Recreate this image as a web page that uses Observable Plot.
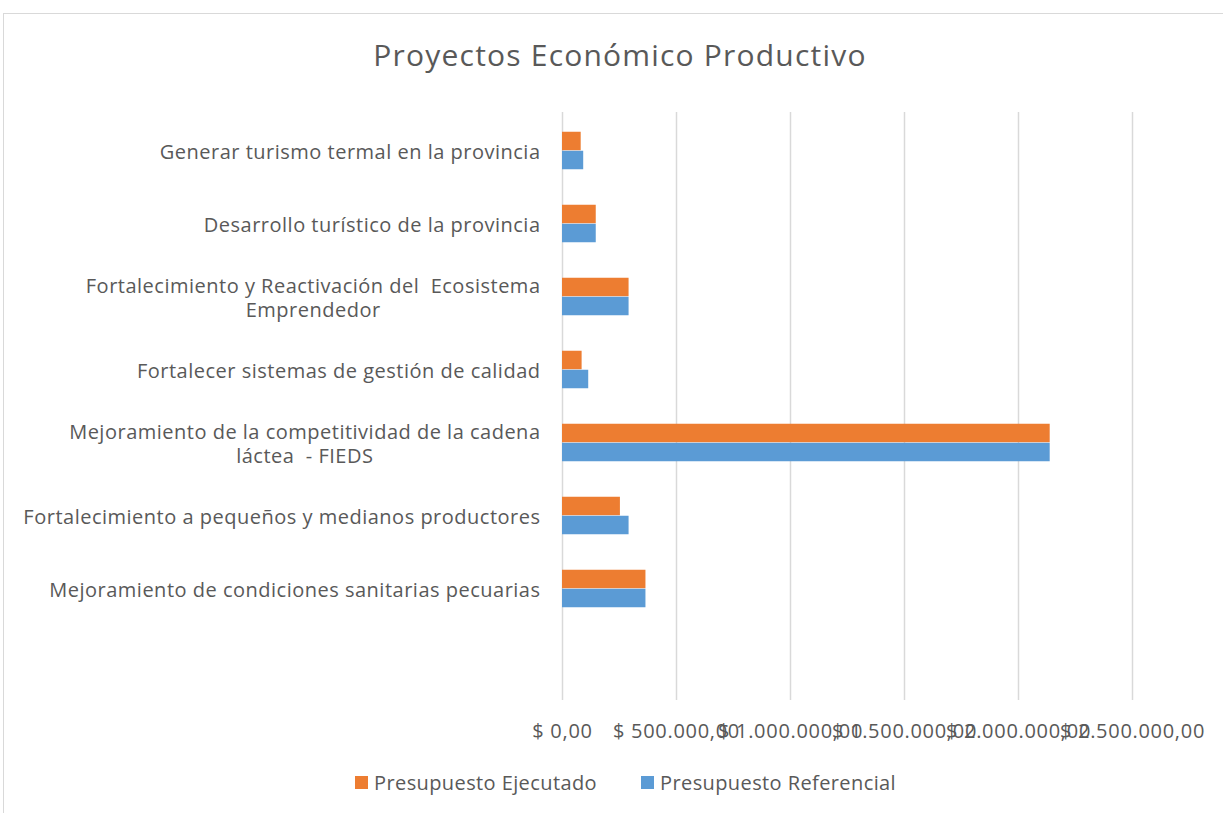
<!DOCTYPE html>
<html>
<head>
<meta charset="utf-8">
<script src="https://cdn.jsdelivr.net/npm/d3@7"></script>
<script src="https://cdn.jsdelivr.net/npm/@observablehq/plot@0.6"></script>
<style>
  html, body { margin: 0; padding: 0; background: #fff; width: 1223px; height: 813px; overflow: hidden; }
  body { position: relative; font-family: "Open Sans", sans-serif; color: #595959; }
  #frame { position: absolute; left: 3px; top: 13px; width: 1300px; height: 900px; border: 1px solid #d9d9d9; box-sizing: border-box; }
  #title { position: absolute; left: 0; width: 1240px; top: 34px; text-align: center; font-size: 30px; letter-spacing: 1.2px; color: #595959; white-space: nowrap; }
  #chart { position: absolute; left: 0; top: 0; }
  #chart svg text { white-space: pre; }
  #legend { position: absolute; left: 355px; top: 769px; display: flex; align-items: center; font-size: 20px; letter-spacing: 0.4px; color: #595959; }
  .item { display: flex; align-items: center; margin-right: 44px; }
  .sw { width: 13px; height: 13px; margin-right: 6px; }
</style>
</head>
<body>
<div id="frame"></div>
<div id="title">Proyectos Económico Productivo</div>
<div id="chart"></div>
<div id="legend"></div>
<script>
// ---- data ----
const categories = [
  "Generar turismo termal en la provincia",
  "Desarrollo turístico de la provincia",
  "Fortalecimiento y Reactivación del  Ecosistema\nEmprendedor",
  "Fortalecer sistemas de gestión de calidad",
  "Mejoramiento de la competitividad de la cadena\nláctea  - FIEDS",
  "Fortalecimiento a pequeños y medianos productores",
  "Mejoramiento de condiciones sanitarias pecuarias",
  ""
];
const ejecutado = [82000, 148000, 292000, 86000, 2139000, 254000, 366000, null];
const referencial = [93000, 148000, 292000, 115000, 2139000, 292000, 366000, null];
const seriesNames = ["Presupuesto Ejecutado", "Presupuesto Referencial"];
const seriesColors = ["#ED7D31", "#5B9BD5"];
const xTicks = [0, 500000, 1000000, 1500000, 2000000, 2500000];

const rows = categories.map((c, i) => ({cat: c, ej: ejecutado[i], ref: referencial[i]})).filter(d => d.ej != null);

const locale = d3.formatLocale({decimal: ",", thousands: ".", grouping: [3], currency: ["$ ", ""]});
const fmt = locale.format("$,.2f");

const labelSize = 20, labelLS = 0.5;
const ctx = document.createElement("canvas").getContext("2d");
ctx.font = `${labelSize}px 'Open Sans'`;
const labelMarks = categories.filter(c => c !== "").map(c => {
  const w = Math.max(...c.split("\n").map(l => ctx.measureText(l).width + labelLS * l.length));
  return Plot.text([c], {
    x: () => 0, y: d => d, text: d => d,
    textAnchor: "middle", lineAnchor: "middle", lineHeight: 1.2,
    dx: -22 - w / 2, fontSize: labelSize, fill: "#595959",
    style: `letter-spacing:${labelLS}px`
  });
});

const chart = Plot.plot({
  width: 1223,
  height: 760,
  marginLeft: 562,
  marginRight: 91,
  marginTop: 112,
  marginBottom: 60,
  style: {fontFamily: "'Open Sans', sans-serif", fontSize: "20px", color: "#595959", background: "transparent"},
  x: {domain: [0, 2500000], axis: null},
  y: {domain: categories, padding: 0, axis: null},
  marks: [
    Plot.gridX(xTicks, {stroke: "#d9d9d9", strokeOpacity: 1, strokeWidth: 1.5}),
    Plot.barX(rows, {x: "ej", y: "cat", fill: seriesColors[0], insetTop: 17.75, insetBottom: 36.75}),
    Plot.barX(rows, {x: "ref", y: "cat", fill: seriesColors[1], insetTop: 36.75, insetBottom: 17.75}),
    Plot.axisX(xTicks, {tickSize: 0, tickPadding: 23, tickFormat: fmt, fontSize: 20, fill: "#595959", anchor: "bottom"}),
    ...labelMarks
  ]
});
document.getElementById("chart").appendChild(chart);
// letter spacing for tick labels and category labels
chart.querySelectorAll("g[aria-label='x-axis tick label'] text").forEach(t => t.style.letterSpacing = "0.7px");
chart.querySelectorAll("g[aria-label='text'] text").forEach(t => t.style.letterSpacing = labelLS + "px");

const legend = document.getElementById("legend");
seriesNames.forEach((n, i) => {
  const it = document.createElement("div");
  it.className = "item";
  it.innerHTML = `<div class="sw" style="background:${seriesColors[i]}"></div><span>${n}</span>`;
  legend.appendChild(it);
});
</script>
</body>
</html>
